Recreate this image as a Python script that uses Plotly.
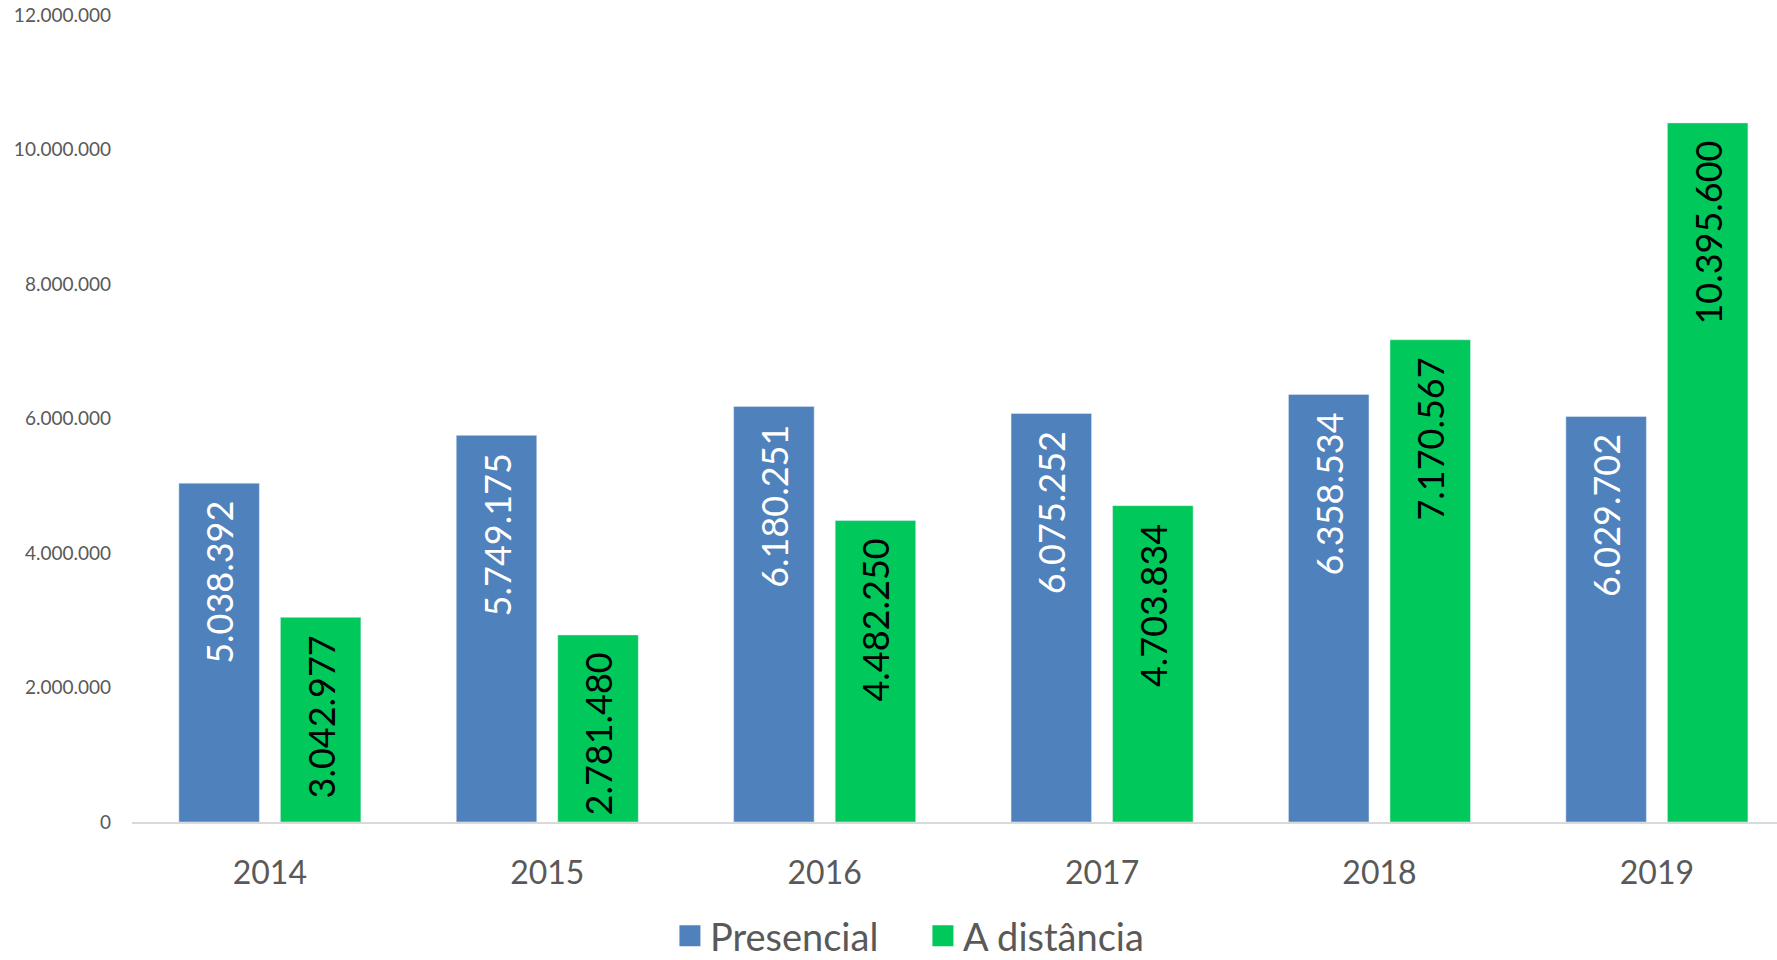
import plotly.graph_objects as go

years = ["2014", "2015", "2016", "2017", "2018", "2019"]
presencial = [5038392, 5749175, 6180251, 6075252, 6358534, 6029702]
distancia = [3042977, 2781480, 4482250, 4703834, 7170567, 10395600]
y_ticks = [0, 2000000, 4000000, 6000000, 8000000, 10000000, 12000000]
series_names = ["Presencial", "A distância"]

BLUE = "#4F81BD"
GREEN = "#00C85A"
FONT = "Lato"
GRAY = "#595959"

W, H = 1777, 960
ML, MR, MT, MB = 132, 0, 15, 138
BARGAP = 0.268
GROUPGAP = 0.207
XR = [-0.497, 5.433]


def fmt(v):
    return f"{v:,}".replace(",", ".")


fig = go.Figure()
fig.add_trace(go.Bar(x=years, y=presencial, name=series_names[0], marker_color=BLUE,
                     showlegend=False, hoverinfo="skip"))
fig.add_trace(go.Bar(x=years, y=distancia, name=series_names[1], marker_color=GREEN,
                     showlegend=False, hoverinfo="skip"))

# legend entries
for nm, col in zip(series_names, [BLUE, GREEN]):
    fig.add_trace(go.Scatter(x=[None], y=[None], mode="markers", name=nm,
                             marker=dict(symbol="square", size=16, color=col,
                                         line=dict(color=col, width=8))))

# data labels
cat_px = (W - ML - MR) / (XR[1] - XR[0])
slot_px = (1 - BARGAP) * cat_px / 2
annots = []
for vals, shift, col in [(presencial, -slot_px / 2, "white"), (distancia, slot_px / 2, "black")]:
    for i, v in enumerate(vals):
        annots.append(dict(x=i, y=v, xref="x", yref="y", text=fmt(v), showarrow=False,
                           textangle=-90, xanchor="center", yanchor="top",
                           xshift=shift, yshift=-16,
                           font=dict(family=FONT, size=36, color=col)))

fig.update_layout(
    width=W, height=H,
    margin=dict(l=ML, r=MR, t=MT, b=MB),
    paper_bgcolor="white", plot_bgcolor="white",
    barmode="group", bargap=BARGAP, bargroupgap=GROUPGAP,
    font=dict(family=FONT, color=GRAY),
    annotations=annots,
    legend=dict(orientation="h", xref="container", yref="container",
                x=0.377, y=0.025, xanchor="left", yanchor="middle",
                font=dict(family=FONT, size=38, color=GRAY),
                itemwidth=30, tracegroupgap=0, bgcolor="rgba(0,0,0,0)",
                entrywidth=208, entrywidthmode="pixels"),
    xaxis=dict(type="category", range=XR, showgrid=False, showline=True,
               linecolor="#D9D9D9", linewidth=2, ticks="",
               tickfont=dict(family=FONT, size=32, color=GRAY),
               ticklabelstandoff=22, zeroline=False),
    yaxis=dict(range=[0, 12000000], showgrid=False, showline=False, zeroline=False,
               tickvals=y_ticks, ticktext=[fmt(v) for v in y_ticks],
               tickfont=dict(family=FONT, size=19, color=GRAY),
               ticklabelstandoff=20, ticks=""),
)

fig.write_html("out.html", config={"displayModeBar": False},
               post_script="document.body.style.margin='0px';document.body.style.overflow='hidden';")
